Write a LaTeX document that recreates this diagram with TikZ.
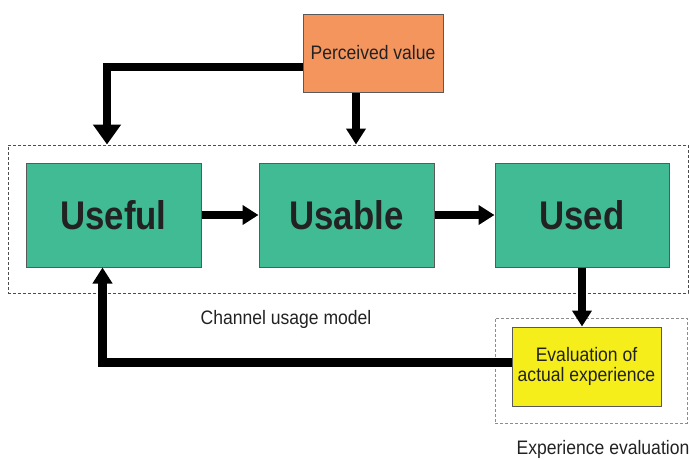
\documentclass[tikz,border=0pt]{standalone}
\usepackage{fontspec}
\setmainfont{Liberation Sans}[FakeStretch=0.9]
\newfontfamily\headfont{Liberation Sans}[FakeStretch=0.87]
\usepackage{tikz}
\usetikzlibrary{arrows.meta,positioning}
\definecolor{boxgreen}{HTML}{40BB93}
\definecolor{pvorange}{HTML}{F5955E}
\definecolor{evyellow}{HTML}{F5EE1A}
\definecolor{ink}{HTML}{222222}
\tikzset{
  box/.style={draw=black!65,line width=1pt,fill=#1,inner sep=2pt,text=ink},
  box/.default={white},
  stage/.style={box=boxgreen,minimum width=175pt,minimum height=104pt,font=\headfont\bfseries\fontsize{40}{44}\selectfont},
  arr/.style={line width=8.5pt,-{Triangle[length=16pt,width=19pt]}},
  frame/.style={draw=#1,line width=1pt,dash pattern=on 3pt off 2pt,inner sep=0pt},
  lbl/.style={font=\fontsize{19.5}{20}\selectfont,text=ink},
}

\begin{document}
\begin{tikzpicture}[x=1pt,y=-1pt]
 \useasboundingbox (0,0) rectangle (689,459);
 % ---- frames
 \node[frame=black!70,minimum width=680pt,minimum height=148pt](usage) at (348,219){};
 \node[frame=black!45,minimum width=192pt,minimum height=105pt](expbox) at (591,370.5){};
 \node[lbl](usagelbl) at (286,319){Channel usage model};
 \node[lbl](explbl) at (603,449){Experience evaluation};
 % ---- boxes
 \node[box=pvorange,lbl,minimum width=140pt,minimum height=78pt](pv) at (373,53){Perceived value};
 \node[stage](useful) at (113.5,215){Useful};
 \node[stage](usable) at (346.5,215){Usable};
 \node[stage,minimum width=174pt](used) at (582,215){Used};
 \node[box=evyellow,lbl,align=center,minimum width=149pt,minimum height=79pt](eval) at (586.5,366.5){Evaluation of\\actual experience};
 % ---- arrows
 \draw[arr,-{Triangle[length=20pt,width=27pt]}]([yshift=-14pt]pv.west) -| ([xshift=-6.5pt]useful.north |- usage.north);
 \draw[arr]([xshift=-17pt]pv.south) -- ([xshift=-17pt]pv.south |- usage.north);
 \draw[arr](useful) -- (usable);
 \draw[arr](usable) -- (used);
 \draw[arr](used.south) -- (used.south |- eval.north);
 \draw[arr]([yshift=4pt]eval.west) -| ([xshift=-11pt]useful.south);
\end{tikzpicture}
\end{document}
